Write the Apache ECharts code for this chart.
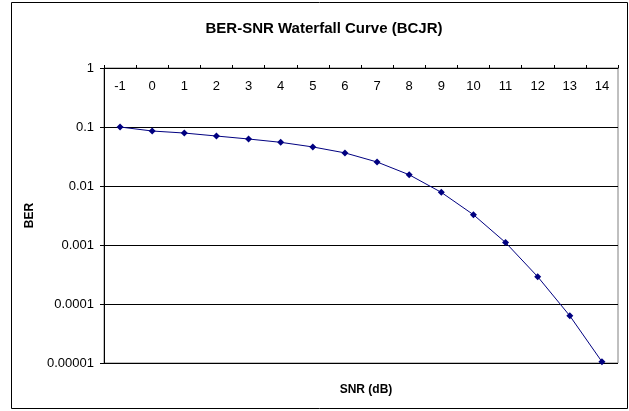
<!DOCTYPE html>
<html>
<head>
<meta charset="utf-8">
<script src="https://cdn.jsdelivr.net/npm/echarts@6/dist/echarts.min.js"></script>
<style>
html, body { margin: 0; padding: 0; background: #fff; }
#chart { width: 629px; height: 411px; }
</style>
</head>
<body>
<div id="chart"></div>
<script>
// SNR in dB (categories along the top axis)
var snrLabels = ['-1', '0', '1', '2', '3', '4', '5', '6', '7', '8', '9', '10', '11', '12', '13', '14'];
// BER
var berValues = [0.1, 0.0855, 0.079, 0.0703, 0.0626, 0.055, 0.0459, 0.0364, 0.0255, 0.0155, 0.0078, 0.00326, 0.0011, 0.00029, 0.000063, 0.0000105];

var fontName = '"Liberation Sans", Arial, sans-serif';

var chart = echarts.init(document.getElementById('chart'));
var option = {
	backgroundColor: '#fff',
	animation: false,
	title: [
		{
			text: 'BER-SNR Waterfall Curve (BCJR)',
			left: 319,
			textAlign: 'center',
			top: 16,
			textStyle: { fontFamily: fontName, fontSize: 15, fontWeight: 'bold', color: '#000' }
		},
		{
			text: 'SNR (dB)',
			left: 361,
			textAlign: 'center',
			top: 379,
			textStyle: { fontFamily: fontName, fontSize: 12, fontWeight: 'bold', color: '#000' }
		}
	],
	graphic: [
		{
			type: 'rect',
			shape: { x: 11.5, y: 2.5, width: 616, height: 406 },
			style: { fill: null, stroke: '#000', lineWidth: 1 },
			silent: true
		}
	],
	grid: {
		left: 104,
		right: 11,
		top: 68,
		bottom: 48,
		show: true,
		borderColor: '#808080',
		borderWidth: 1
	},
	xAxis: {
		type: 'category',
		position: 'top',
		data: snrLabels,
		boundaryGap: true,
		axisLine: { lineStyle: { color: '#000', width: 1 } },
		axisTick: { show: true, length: 3, alignWithLabel: false, lineStyle: { color: '#000' } },
		axisLabel: {
			inside: true,
			margin: 12,
			interval: 0,
			fontFamily: fontName,
			fontSize: 13,
			color: '#000'
		},
		splitLine: { show: false }
	},
	yAxis: {
		type: 'log',
		logBase: 10,
		min: 0.00001,
		max: 1,
		name: 'BER',
		nameLocation: 'middle',
		nameRotate: 90,
		nameGap: 66,
		nameTextStyle: { fontFamily: fontName, fontSize: 12, fontWeight: 'bold', color: '#000' },
		axisLine: { show: true, lineStyle: { color: '#000', width: 1 } },
		axisTick: { show: true, length: 4, lineStyle: { color: '#000' } },
		axisLabel: {
			margin: 10,
			fontFamily: fontName,
			fontSize: 13,
			color: '#000',
			formatter: function(v){
				var e = Math.round(Math.log10(v));
				if(e >= 0){
					return '1';
				}
				return Math.pow(10, e).toFixed(-e);
			}
		},
		splitLine: { show: true, lineStyle: { color: '#000', width: 1 } }
	},
	series: [
		{
			type: 'line',
			data: berValues,
			symbol: 'diamond',
			symbolSize: 7,
			showSymbol: true,
			lineStyle: { color: '#000080', width: 1 },
			itemStyle: { color: '#000080' },
			z: 5
		}
	]
};
chart.setOption(option);
</script>
</body>
</html>
